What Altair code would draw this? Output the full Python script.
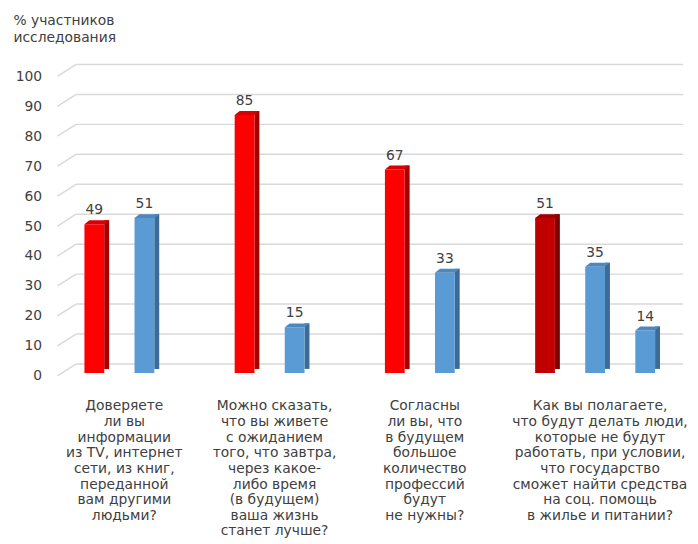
import altair as alt
import pandas as pd

# ---- data ----
questions = [
    "Доверяете\nли вы\nинформации\nиз TV, интернет\nсети, из книг,\nпереданной\nвам другими\nлюдьми?",
    "Можно сказать,\nчто вы живете\nс ожиданием\nтого, что завтра,\nчерез какое-\nлибо время\n(в будущем)\nваша жизнь\nстанет лучше?",
    "Согласны\nли вы, что\nв будущем\nбольшое\nколичество\nпрофессий\nбудут\nне нужны?",
    "Как вы полагаете,\nчто будут делать люди,\nкоторые не будут\nработать, при условии,\nчто государство\nсможет найти средства\nна соц. помощь\nв жилье и питании?",
]
question_idx = [0, 0, 1, 1, 2, 2, 3, 3, 3]
values = [49, 51, 85, 15, 67, 33, 51, 35, 14]
series = ["A", "B", "A", "B", "A", "B", "C", "B", "B"]
y_ticks = [0, 10, 20, 30, 40, 50, 60, 70, 80, 90, 100]
y_title = ["% участников", "исследования"]

# ---- build tables ----
rows = []
for i, (q, v, s) in enumerate(zip(question_idx, values, series)):
    k = sum(1 for j in range(i) if question_idx[j] == q)
    rows.append({"slot": 1 + 3 * q + k, "value": v, "series": s})
bars = pd.DataFrame(rows)

cats = pd.DataFrame({
    "x": [bars.loc[[i for i, q in enumerate(question_idx) if q == g], "slot"].mean()
          for g in range(len(questions))],
    "text": questions,
})
grid_df = pd.DataFrame({"v": y_ticks})

FONT = "DejaVu Sans"
TXT = "#404040"
ser_domain = ["A", "B", "C"]
front_col = ["#FF0000", "#5B9BD5", "#C00000"]
side_col = ["#A50000", "#3B6B96", "#7A0000"]
top_col = ["#D80000", "#4C87BE", "#9E0000"]

# pseudo-3D: bars sit in the middle depth, the grid wall behind them,
# the axis labels in front -> two y scales over the same plot range.
xscale = alt.Scale(domain=[0.5, 12.5], nice=False, zero=False)
bar_y = alt.Scale(domain=[-1.95, 102.28], nice=False, zero=False)
grid_y = alt.Scale(domain=[-0.99, 104.62], nice=False, zero=False)
X = alt.X("slot:Q", scale=xscale, axis=None)

y_axis = alt.Axis(
    values=y_ticks, title=y_title, titleAngle=0, titleAlign="left",
    titleBaseline="alphabetic", titleX=-52, titleY=-38,
    titleFontSize=14, titleFontWeight="normal", titleLineHeight=16.5,
    titleColor=TXT, titleFont=FONT,
    labelFontSize=14, labelFont=FONT, labelColor=TXT, labelPadding=23,
    ticks=False, domain=False, grid=False,
)

grid_base = alt.Chart(grid_df).transform_calculate(back="datum.v + 3.96")
dgrid = grid_base.mark_rule(color="#D9D9D9", strokeWidth=1.5).encode(
    x=alt.value(-7), x2=alt.value(12),
    y=alt.Y("v:Q", scale=grid_y, axis=y_axis), y2="back:Q",
)
hgrid = grid_base.mark_rule(color="#D9D9D9", strokeWidth=1.5).encode(
    x=alt.value(12), x2=alt.value(626),
    y=alt.Y("back:Q", scale=grid_y, axis=None),
)

base = alt.Chart(bars)
Y = alt.Y("value:Q", scale=bar_y, axis=None)

side = base.mark_bar(size=5, xOffset=12.5, yOffset=-4, y2Offset=-2).encode(
    x=X, y=Y,
    fill=alt.Fill("series:N", scale=alt.Scale(domain=ser_domain, range=side_col), legend=None),
)

front = base.mark_bar(size=20).encode(
    x=X, y=Y,
    color=alt.Color("series:N", scale=alt.Scale(domain=ser_domain, range=front_col), legend=None),
)

top_shape = "M -0.667 0 L 0.667 0 L 1 -0.267 L -0.333 -0.267 Z"
top = base.mark_point(size=900, filled=True, opacity=1, strokeWidth=0).encode(
    x=X, y=Y,
    shape=alt.value(top_shape),
    color=alt.Color("series:N", scale=alt.Scale(domain=ser_domain, range=top_col), legend=None),
)

labels = base.mark_text(baseline="alphabetic", dy=-10, dx=0, fontSize=14, font=FONT, color=TXT).encode(
    x=X, y=Y,
    text="value:Q",
)

cat_text = alt.Chart(cats).mark_text(
    lineBreak="\n", align="center", baseline="alphabetic", fontSize=14,
    lineHeight=15.8, dx=5, font=FONT, color=TXT,
).encode(
    x=alt.X("x:Q", scale=xscale, axis=None),
    y=alt.value(352),
    text="text:N",
)

chart = alt.layer(dgrid, hgrid, side, front, top, labels, cat_text).resolve_scale(
    y="independent", color="independent", fill="independent"
).properties(
    width=618, height=320,
    autosize=alt.AutoSizeParams(type="none"),
    padding={"left": 57, "top": 52, "right": 15, "bottom": 164},
    background="white",
).configure_view(stroke=None)

chart.save("out.html", embed_options={"renderer": "svg", "actions": False})
